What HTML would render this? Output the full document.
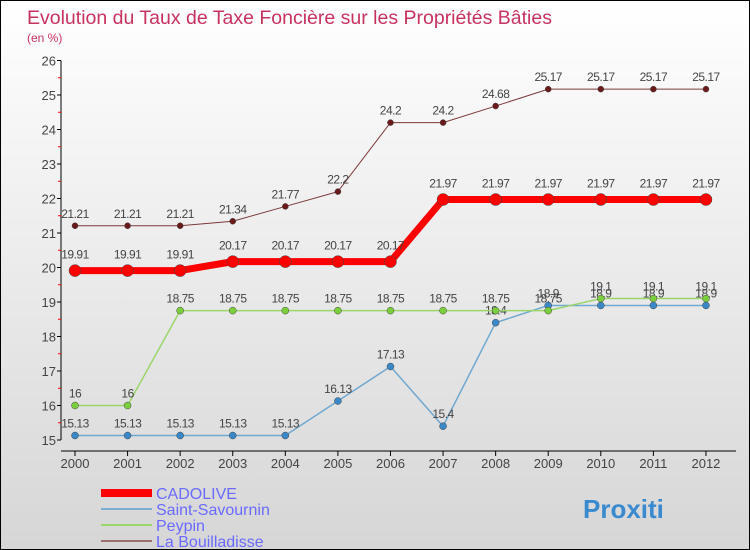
<!DOCTYPE html>
<html><head><meta charset="utf-8"><style>
body{margin:0}
#c{width:748px;height:548px;border:1px solid #000;background:linear-gradient(#fff,#d6d6d6);position:relative;font-family:"Liberation Sans",sans-serif;overflow:hidden}
</style></head><body>
<div id="c">
<svg id="s" width="748" height="548"></svg>
</div>
<script>
const years=["2000","2001","2002","2003","2004","2005","2006","2007","2008","2009","2010","2011","2012"];
const cadolive=[19.91,19.91,19.91,20.17,20.17,20.17,20.17,21.97,21.97,21.97,21.97,21.97,21.97];
const saint=[15.13,15.13,15.13,15.13,15.13,16.13,17.13,15.4,18.4,18.9,18.9,18.9,18.9];
const peypin=[16,16,18.75,18.75,18.75,18.75,18.75,18.75,18.75,18.75,19.1,19.1,19.1];
const bouill=[21.21,21.21,21.21,21.34,21.77,22.2,24.2,24.2,24.68,25.17,25.17,25.17,25.17];
const yTicks=[15,16,17,18,19,20,21,22,23,24,25,26];
const NS="http://www.w3.org/2000/svg",s=document.getElementById('s');
const X=i=>74+i*52.58, Y=v=>439-(v-15)*34.5;
function mk(t,a,p){const e=document.createElementNS(NS,t);for(const k in a)e.setAttribute(k,a[k]);(p||s).appendChild(e);return e;}
let e;
e=mk('text',{x:26,y:23,fill:'#c8325f','font-size':19.5});e.textContent='Evolution du Taux de Taxe Foncière sur les Propriétés Bâties';


e=mk('text',{x:26,y:41,fill:'#c8325f','font-size':12});e.textContent='(en %)';


e=mk('line',{x1:60,y1:Y(26),x2:60,y2:Y(15),stroke:'#000'});


e=mk('line',{x1:60,y1:450,x2:735,y2:450,stroke:'#000'});


yTicks.forEach(v=>{
 mk('line',{x1:56,x2:60,y1:Y(v),y2:Y(v),stroke:'#000'});
 if(v<26)mk('line',{x1:57,x2:60,y1:Y(v+0.5),y2:Y(v+0.5),stroke:'#f00'});
 e=mk('text',{x:55,y:Y(v)+5,'text-anchor':'end','font-size':13,fill:'#444'});e.textContent=v;
 
 
});
years.forEach((y,i)=>{
 mk('line',{x1:X(i),x2:X(i),y1:450,y2:455,stroke:'#000'});
 e=mk('text',{x:X(i),y:467,'text-anchor':'middle','font-size':13,fill:'#444'});e.textContent=y;
 
 
});
function series(d,col,w,r,dot,name,lblOff){
 const g=mk('g',{});
 
 
 e=mk('polyline',{points:d.map((v,i)=>X(i)+','+Y(v)).join(' '),fill:'none',stroke:col,'stroke-width':w,'stroke-linejoin':'round'},g);
 
 
 d.forEach((v,i)=>{
  e=mk('circle',{cx:X(i),cy:Y(v),r:r,fill:dot,stroke:'#444','stroke-width':0.5},g);
  
  
  e=mk('text',{x:X(i),y:Y(v)-lblOff,'text-anchor':'middle','font-size':12,fill:'#444','letter-spacing':'-0.5'},g);e.textContent=v;
  
  
 });
}
series(saint,'#6fa8d0',1.5,3.5,'#3a88c8','saint-savournin',8);
series(peypin,'#9ad66a',1.5,3.5,'#7ccf3c','peypin',8);
series(bouill,'#7a3a3a',1,3,'#6a1a1a','la-bouilladisse',8);
series(cadolive,'#f00',7,6,'#f00','cadolive',12);
const leg=[['CADOLIVE','#f00',8],['Saint-Savournin','#7aaed2',2],['Peypin','#9ad66a',2],['La Bouilladisse','#9a7070',2]];
leg.forEach((l,i)=>{
 const y=492+i*16;
 e=mk('line',{x1:100,x2:151,y1:y,y2:y,stroke:l[1],'stroke-width':l[2]});
 
 
 e=mk('text',{x:155,y:y+6,'font-size':16,fill:'#6a6aff'});e.textContent=l[0];
 
 
});
e=mk('text',{x:582,y:517,'font-size':26,'font-weight':'bold',fill:'#3a8ad0'});e.textContent='Proxiti';


</script>
</body></html>
